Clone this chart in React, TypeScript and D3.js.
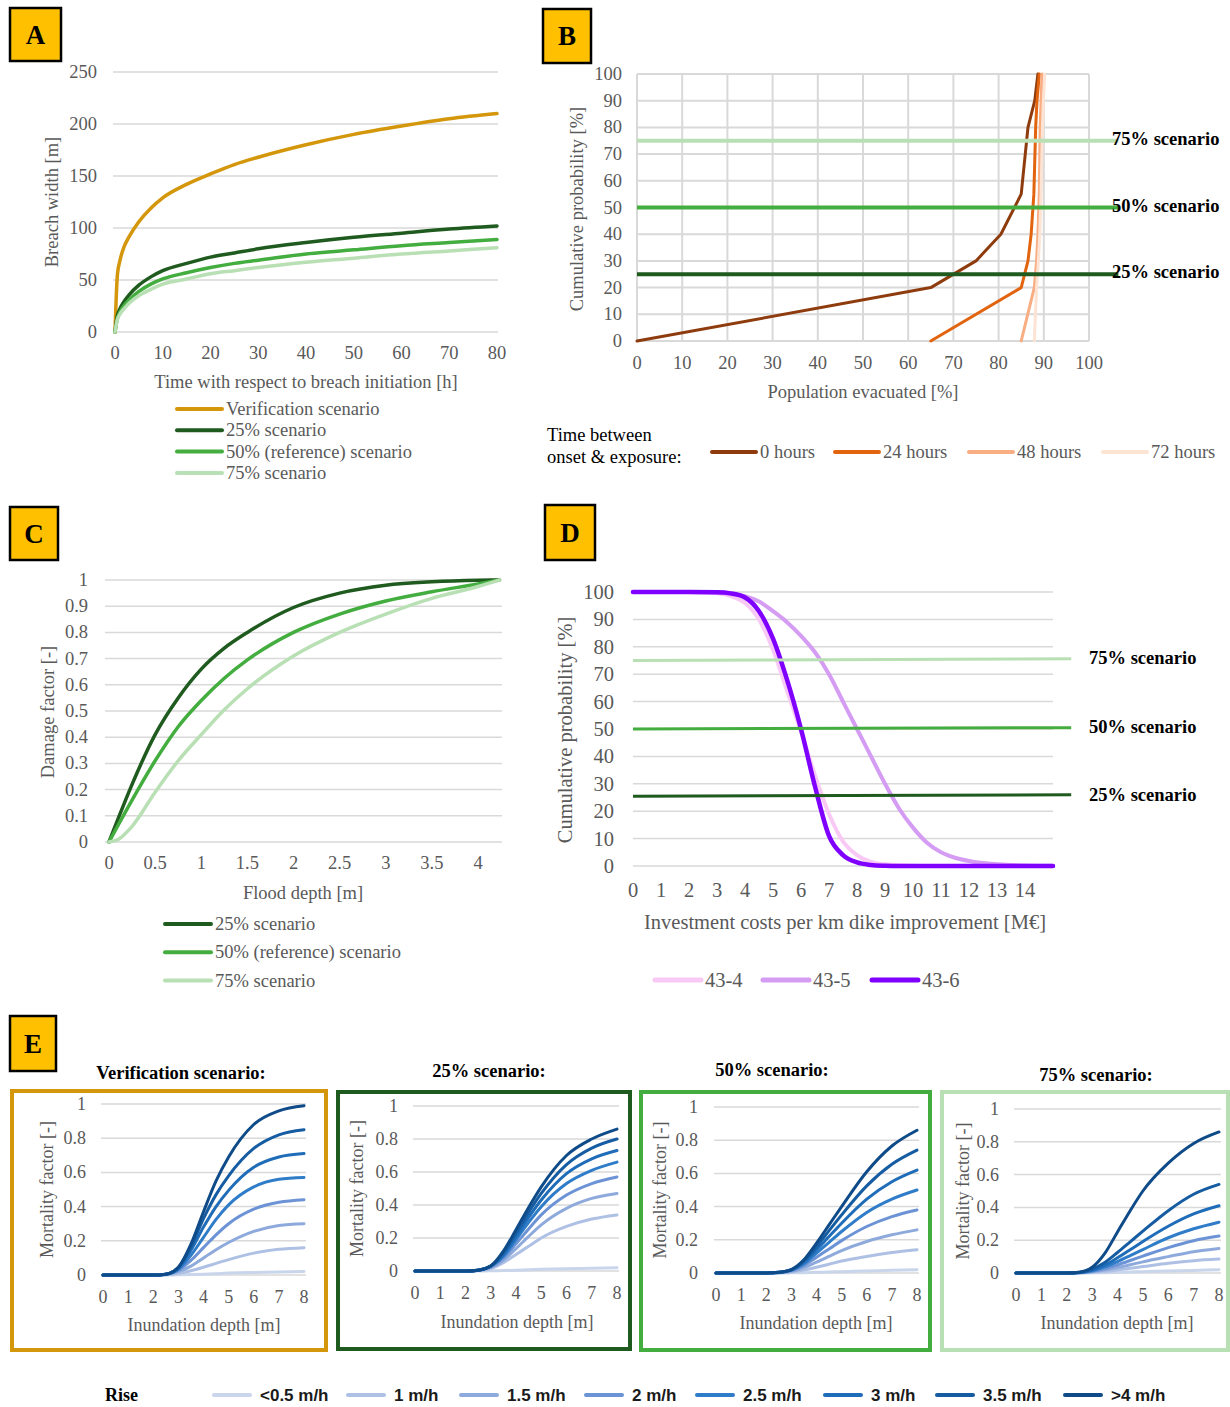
import React from 'react';
import * as d3 from 'd3';

const W = 1230;
const H = 1407;

const SERIF = '"Liberation Serif", "Times New Roman", serif';
const SANS = '"Liberation Sans", Arial, sans-serif';
const GRID = '#d9d9d9';
const INK = '#595959';
const TAG = '#ffc000';

const GOLD = '#d4960a';
const GREEN_25 = '#1f5a1e';
const GREEN_50 = '#44ad3f';
const GREEN_75 = '#b9e0b4';

// A - breach width growth
const breachTime = [0, 0.5, 1, 2, 3, 5, 7.5, 10, 15, 20, 25, 30, 40, 50, 60, 70, 80];
const breachVerification = [0, 55, 68, 83, 92, 106, 119, 129, 142, 152, 161, 168, 180, 190, 198, 205, 210];
const breach25 = [0, 16, 22, 30, 36, 45, 53, 59, 66, 72, 76, 80, 86, 91, 95, 99, 102];
const breach50 = [0, 13, 19, 26, 31, 39, 46, 51, 57, 62, 66, 69, 75, 79, 83, 86, 89];
const breach75 = [0, 12, 17, 23, 28, 35, 41, 46, 51, 56, 59, 62, 67, 71, 75, 78, 81];
const breachTicksY = [0, 50, 100, 150, 200, 250];
const breachTicksX = [0, 10, 20, 30, 40, 50, 60, 70, 80];
const breachNames = ['Verification scenario', '25% scenario', '50% (reference) scenario', '75% scenario'];

// B - evacuation
const evacProb = [0, 20, 30, 40, 55, 80, 90, 100];
const evac0h = [0, 65, 75, 80.5, 85, 86.5, 88, 88.7];
const evac24h = [65, 85, 86.5, 87.2, 87.8, 88.2, 88.5, 89];
const evac48h = [85, 87.9, 88.4, 88.7, 89, 89.2, 89.4, 89.6];
const evac72h = [87.9, 88.4, 88.8, 89.1, 89.4, 89.7, 89.9, 90.2];
const evacNames = ['0 hours', '24 hours', '48 hours', '72 hours'];
const evacColors = ['#8e3b0e', '#e2640f', '#f9ad82', '#fde3d3'];
const pctTicks = [0, 10, 20, 30, 40, 50, 60, 70, 80, 90, 100];
const scenarioLevelsB = [75, 50, 25];
const scenarioEndB = 106.5;
const scenarioNames = ['75% scenario', '50% scenario', '25% scenario'];
const scenarioColors = [GREEN_75, GREEN_50, GREEN_25];

// C - damage curves
const floodDepth = [0, 0.1, 0.25, 0.5, 0.75, 1, 1.25, 1.5, 2, 2.5, 3, 3.5, 4, 4.23];
const damage25 = [0, 0.09, 0.22, 0.41, 0.55, 0.66, 0.74, 0.8, 0.895, 0.95, 0.98, 0.993, 0.999, 1];
const damage50 = [0, 0.065, 0.16, 0.31, 0.44, 0.54, 0.625, 0.695, 0.8, 0.87, 0.92, 0.955, 0.985, 1];
const damage75 = [0, 0.01, 0.06, 0.19, 0.31, 0.41, 0.505, 0.585, 0.71, 0.8, 0.87, 0.93, 0.975, 1];
const damageTicksY = [0, 0.1, 0.2, 0.3, 0.4, 0.5, 0.6, 0.7, 0.8, 0.9, 1];
const damageTicksX = [0, 0.5, 1, 1.5, 2, 2.5, 3, 3.5, 4];

// D - investment costs
const costX = [0, 2, 3, 3.5, 4, 4.5, 5, 5.5, 6, 6.5, 7, 7.5, 8, 8.5, 9, 9.5, 10, 10.5, 11, 11.5, 12, 13, 14, 15];
const cost43_4 = [100, 100, 99.5, 98.5, 96, 90, 79, 64, 49, 33, 19, 9, 4, 1.5, 0.6, 0.3, 0.1, 0, 0, 0, 0, 0, 0, 0];
const cost43_5 = [100, 100, 99.8, 99.3, 98.5, 96.5, 93, 89, 84, 78, 70, 60, 50, 40, 30, 21, 14, 8.5, 5, 3, 1.8, 0.6, 0.2, 0.1];
const cost43_6 = [100, 100, 99.9, 99.5, 98, 93, 83, 68, 50, 29, 11, 4, 1.3, 0.4, 0.1, 0, 0, 0, 0, 0, 0, 0, 0, 0];
const costNames = ['43-4', '43-5', '43-6'];
const costColors = ['#f9c9f5', '#d59cf3', '#7f00ff'];
const costTicksX = [0, 1, 2, 3, 4, 5, 6, 7, 8, 9, 10, 11, 12, 13, 14];
const scenarioLevelsD = [75, 50, 25.5];
const scenarioLevelsDEnd = [75.6, 50.5, 26];
const scenarioEndD = 15.65;

// E - mortality (series ordered <0.5 ... >4 m/h)
const depthE = [0, 2, 2.5, 3, 3.5, 4, 4.5, 5, 6, 7, 8];
const mortVerification = [
  [0, 0, 0, 0.001, 0.003, 0.005, 0.008, 0.011, 0.015, 0.018, 0.02],
  [0, 0, 0.002, 0.01, 0.025, 0.045, 0.068, 0.09, 0.128, 0.15, 0.16],
  [0, 0, 0.003, 0.02, 0.052, 0.1, 0.148, 0.19, 0.255, 0.29, 0.3],
  [0, 0, 0.004, 0.028, 0.085, 0.16, 0.235, 0.3, 0.385, 0.425, 0.44],
  [0, 0, 0.005, 0.034, 0.115, 0.22, 0.325, 0.41, 0.515, 0.56, 0.57],
  [0, 0, 0.005, 0.04, 0.145, 0.28, 0.4, 0.495, 0.63, 0.69, 0.71],
  [0, 0, 0.005, 0.044, 0.165, 0.33, 0.47, 0.58, 0.74, 0.82, 0.85],
  [0, 0, 0.005, 0.045, 0.18, 0.37, 0.55, 0.69, 0.88, 0.96, 0.99],
];
const mort25 = [
  [0, 0, 0, 0.001, 0.003, 0.005, 0.008, 0.01, 0.014, 0.017, 0.02],
  [0, 0, 0.003, 0.015, 0.05, 0.1, 0.15, 0.2, 0.27, 0.315, 0.34],
  [0, 0, 0.004, 0.02, 0.065, 0.135, 0.21, 0.28, 0.38, 0.44, 0.47],
  [0, 0, 0.005, 0.025, 0.08, 0.165, 0.255, 0.34, 0.46, 0.53, 0.57],
  [0, 0, 0.005, 0.03, 0.09, 0.19, 0.295, 0.39, 0.53, 0.61, 0.66],
  [0, 0, 0.005, 0.03, 0.1, 0.21, 0.325, 0.43, 0.59, 0.68, 0.73],
  [0, 0, 0.005, 0.03, 0.11, 0.23, 0.355, 0.47, 0.645, 0.745, 0.8],
  [0, 0, 0.005, 0.03, 0.12, 0.25, 0.385, 0.51, 0.7, 0.8, 0.86],
];
const mort50 = [
  [0, 0, 0, 0.001, 0.002, 0.004, 0.006, 0.008, 0.012, 0.016, 0.02],
  [0, 0, 0.001, 0.006, 0.018, 0.035, 0.053, 0.072, 0.1, 0.123, 0.14],
  [0, 0, 0.002, 0.01, 0.032, 0.065, 0.1, 0.135, 0.19, 0.23, 0.26],
  [0, 0, 0.003, 0.014, 0.045, 0.095, 0.145, 0.195, 0.28, 0.34, 0.38],
  [0, 0, 0.003, 0.017, 0.056, 0.12, 0.185, 0.25, 0.365, 0.445, 0.5],
  [0, 0, 0.004, 0.019, 0.066, 0.14, 0.22, 0.3, 0.445, 0.55, 0.62],
  [0, 0, 0.004, 0.02, 0.074, 0.16, 0.255, 0.35, 0.525, 0.655, 0.74],
  [0, 0, 0.004, 0.021, 0.08, 0.18, 0.29, 0.4, 0.61, 0.765, 0.86],
];
const mort75 = [
  [0, 0, 0, 0.001, 0.002, 0.004, 0.006, 0.008, 0.012, 0.016, 0.02],
  [0, 0, 0.001, 0.004, 0.01, 0.019, 0.029, 0.039, 0.059, 0.075, 0.085],
  [0, 0, 0.001, 0.007, 0.018, 0.033, 0.05, 0.068, 0.1, 0.13, 0.15],
  [0, 0, 0.002, 0.01, 0.027, 0.05, 0.076, 0.103, 0.155, 0.197, 0.225],
  [0, 0, 0.003, 0.014, 0.037, 0.07, 0.106, 0.143, 0.215, 0.27, 0.31],
  [0, 0, 0.003, 0.018, 0.048, 0.093, 0.142, 0.192, 0.285, 0.36, 0.41],
  [0, 0, 0.004, 0.024, 0.064, 0.125, 0.19, 0.255, 0.38, 0.48, 0.54],
  [0, 0, 0.005, 0.035, 0.12, 0.25, 0.38, 0.5, 0.67, 0.79, 0.86],
];
const riseNames = ['<0.5 m/h', '1 m/h', '1.5 m/h', '2 m/h', '2.5 m/h', '3 m/h', '3.5 m/h', '>4 m/h'];
const riseColors = ['#c9d5eb', '#aec1e4', '#8eaadc', '#6c93d5', '#2f7cc8', '#1f6cb8', '#155ca2', '#0e4b88'];
const riseLegendX = [214, 348, 461, 586, 697, 825, 937, 1065];
const mortTicksY = [0, 0.2, 0.4, 0.6, 0.8, 1];
const mortTicksX = [0, 1, 2, 3, 4, 5, 6, 7, 8];

type Scale = d3.ScaleLinear<number, number>;

function Curve({ xs, ys, x, y, color, width, curve = d3.curveMonotoneX }:
  { xs: number[]; ys: number[]; x: Scale; y: Scale; color: string; width: number; curve?: d3.CurveFactory }) {
  const gen = d3.line<number>().x((_, i) => x(xs[i])).y(d => y(d)).curve(curve);
  return <path d={gen(ys) || ''} fill="none" stroke={color} strokeWidth={width}
    strokeLinecap="round" strokeLinejoin="round" />;
}

function Tag({ x, y, w, h, letter }: { x: number; y: number; w: number; h: number; letter: string }) {
  return (
    <g>
      <rect x={x} y={y} width={w} height={h} fill={TAG} stroke="#000" strokeWidth={2.5} />
      <text x={x + w / 2} y={y + h / 2} textAnchor="middle" dominantBaseline="central"
        fontFamily={SERIF} fontWeight="bold" fontSize={27}>{letter}</text>
    </g>
  );
}

function Frame(p: {
  x: Scale; y: Scale; xTicks: number[]; yTicks: number[];
  left: number; right: number; yLabelX: number; xLabelY: number;
  xTitle: string; xTitleAt: [number, number]; yTitle: string; yTitleAt: [number, number];
  size: number; vGrid?: boolean; gridWidth?: number;
}) {
  const gw = p.gridWidth ?? 1.5;
  const [ylo, yhi] = p.y.range();
  return (
    <g fontFamily={SERIF} fill={INK}>
      {p.yTicks.map(t => (
        <line key={'h' + t} x1={p.left} x2={p.right} y1={p.y(t)} y2={p.y(t)} stroke={GRID} strokeWidth={gw} />
      ))}
      {p.vGrid && p.xTicks.map(t => (
        <line key={'v' + t} x1={p.x(t)} x2={p.x(t)} y1={ylo} y2={yhi} stroke={GRID} strokeWidth={gw} />
      ))}
      {p.yTicks.map(t => (
        <text key={'yl' + t} x={p.yLabelX} y={p.y(t)} textAnchor="end" dominantBaseline="central" fontSize={p.size}>{t}</text>
      ))}
      {p.xTicks.map(t => (
        <text key={'xl' + t} x={p.x(t)} y={p.xLabelY} textAnchor="middle" dominantBaseline="central" fontSize={p.size}>{t}</text>
      ))}
      <text x={p.xTitleAt[0]} y={p.xTitleAt[1]} textAnchor="middle" dominantBaseline="central" fontSize={p.size}>{p.xTitle}</text>
      <text transform={`translate(${p.yTitleAt[0]},${p.yTitleAt[1]}) rotate(-90)`} textAnchor="middle"
        dominantBaseline="central" fontSize={p.size}>{p.yTitle}</text>
    </g>
  );
}

function LegendItem({ x1, x2, y, color, width, label, size = 18.5, font = SERIF, fill = INK, weight = 'normal', gap = 4 }:
  { x1: number; x2: number; y: number; color: string; width: number; label: string; size?: number; font?: string; fill?: string; weight?: string; gap?: number }) {
  return (
    <g>
      <line x1={x1} x2={x2} y1={y} y2={y} stroke={color} strokeWidth={width} strokeLinecap="round" />
      <text x={x2 + gap} y={y} dominantBaseline="central" fontFamily={font} fontSize={size} fill={fill} fontWeight={weight}>{label}</text>
    </g>
  );
}

function PanelA() {
  const x = d3.scaleLinear().domain([0, 80]).range([115, 497]);
  const y = d3.scaleLinear().domain([0, 250]).range([332, 72]);
  const series = [breachVerification, breach25, breach50, breach75];
  const colors = [GOLD, GREEN_25, GREEN_50, GREEN_75];
  return (
    <g>
      <Tag x={10} y={8} w={51} h={53} letter="A" />
      <Frame x={x} y={y} xTicks={breachTicksX} yTicks={breachTicksY} left={113} right={498}
        yLabelX={97} xLabelY={353} size={18.5}
        xTitle="Time with respect to breach initiation [h]" xTitleAt={[306, 382]}
        yTitle="Breach width [m]" yTitleAt={[52, 202]} />
      {series.map((s, i) => <Curve key={i} xs={breachTime} ys={s} x={x} y={y} color={colors[i]} width={3.5} />)}
      {breachNames.map((n, i) => (
        <LegendItem key={n} x1={177} x2={222} y={409 + i * 21.3} color={colors[i]} width={4} label={n} />
      ))}
    </g>
  );
}

function PanelB() {
  const x = d3.scaleLinear().domain([0, 100]).range([637, 1089]);
  const y = d3.scaleLinear().domain([0, 100]).range([341, 74]);
  const series = [evac0h, evac24h, evac48h, evac72h];
  const legendX = [712, 835, 969, 1103];
  return (
    <g>
      <Tag x={543} y={9} w={48} h={54} letter="B" />
      <Frame x={x} y={y} xTicks={pctTicks} yTicks={pctTicks} left={637} right={1089}
        yLabelX={622} xLabelY={363} size={18.5} vGrid gridWidth={2}
        xTitle="Population evacuated [%]" xTitleAt={[863, 392]}
        yTitle="Cumulative probability [%]" yTitleAt={[577, 209]} />
      {series.map((s, i) => (
        <Curve key={i} xs={s} ys={evacProb} x={x} y={y} color={evacColors[i]} width={3} curve={d3.curveLinear} />
      ))}
      {scenarioLevelsB.map((lv, i) => (
        <line key={lv} x1={x(0)} x2={x(scenarioEndB)} y1={y(lv)} y2={y(lv)} stroke={scenarioColors[i]} strokeWidth={4} />
      ))}
      {scenarioNames.map((n, i) => (
        <text key={n} x={1112} y={y(scenarioLevelsB[i]) - 2} dominantBaseline="central" fontFamily={SERIF}
          fontWeight="bold" fontSize={18.5} fill="#000">{n}</text>
      ))}
      <text x={547} y={435} dominantBaseline="central" fontFamily={SERIF} fontSize={18.5} fill="#000">Time between</text>
      <text x={547} y={457} dominantBaseline="central" fontFamily={SERIF} fontSize={18.5} fill="#000">onset &amp; exposure:</text>
      {evacNames.map((n, i) => (
        <LegendItem key={n} x1={legendX[i]} x2={legendX[i] + 44} y={452} color={evacColors[i]} width={4} label={n} />
      ))}
    </g>
  );
}

function PanelC() {
  const x = d3.scaleLinear().domain([0, 4]).range([109, 478]);
  const y = d3.scaleLinear().domain([0, 1]).range([842, 580]);
  const series = [damage25, damage50, damage75];
  const colors = [GREEN_25, GREEN_50, GREEN_75];
  const names = ['25% scenario', '50% (reference) scenario', '75% scenario'];
  return (
    <g>
      <Tag x={10} y={507} w={48} h={53} letter="C" />
      <Frame x={x} y={y} xTicks={damageTicksX} yTicks={damageTicksY} left={105} right={502}
        yLabelX={88} xLabelY={863} size={18.5}
        xTitle="Flood depth [m]" xTitleAt={[303, 893]}
        yTitle="Damage factor [-]" yTitleAt={[48, 712]} />
      {series.map((s, i) => <Curve key={i} xs={floodDepth} ys={s} x={x} y={y} color={colors[i]} width={3.5} />)}
      {names.map((n, i) => (
        <LegendItem key={n} x1={165} x2={211} y={924 + i * 28.3} color={colors[i]} width={4} label={n} />
      ))}
    </g>
  );
}

function PanelD() {
  const x = d3.scaleLinear().domain([0, 15]).range([633, 1053]);
  const y = d3.scaleLinear().domain([0, 100]).range([866, 592]);
  const series = [cost43_4, cost43_5, cost43_6];
  const widths = [4, 4, 4.5];
  const legendX = [655, 763, 872];
  return (
    <g>
      <Tag x={545} y={505} w={50} h={55} letter="D" />
      <Frame x={x} y={y} xTicks={costTicksX} yTicks={pctTicks} left={633} right={1053}
        yLabelX={614} xLabelY={890} size={20.5}
        xTitle="Investment costs per km dike improvement [M€]" xTitleAt={[845, 922]}
        yTitle="Cumulative probability [%]" yTitleAt={[565, 730]} />
      {series.map((s, i) => <Curve key={i} xs={costX} ys={s} x={x} y={y} color={costColors[i]} width={widths[i]} />)}
      {scenarioLevelsD.map((lv, i) => (
        <line key={lv} x1={x(0)} x2={x(scenarioEndD)} y1={y(lv)} y2={y(scenarioLevelsDEnd[i])}
          stroke={scenarioColors[i]} strokeWidth={3} />
      ))}
      {scenarioNames.map((n, i) => (
        <text key={n} x={1089} y={y(scenarioLevelsDEnd[i]) + (i === 2 ? 0 : -1)} dominantBaseline="central" fontFamily={SERIF}
          fontWeight="bold" fontSize={18.5} fill="#000">{n}</text>
      ))}
      {costNames.map((n, i) => (
        <LegendItem key={n} x1={legendX[i]} x2={legendX[i] + 46} y={980} color={costColors[i]} width={5}
          label={n} size={20.5} />
      ))}
    </g>
  );
}

type SubCfg = {
  title: string; titleAt: [number, number]; border: string;
  box: [number, number, number, number];
  xr: [number, number]; yr: [number, number];
  yLabelX: number; xLabelY: number; xTitleAt: [number, number]; yTitleX: number;
  data: number[][];
};

const subplots: SubCfg[] = [
  { title: 'Verification scenario:', titleAt: [181, 1073], border: GOLD, box: [12, 1091, 314, 259],
    xr: [103, 304], yr: [1275, 1104], yLabelX: 86, xLabelY: 1297, xTitleAt: [204, 1325], yTitleX: 47, data: mortVerification },
  { title: '25% scenario:', titleAt: [489, 1071], border: GREEN_25, box: [338, 1092, 292, 257],
    xr: [415, 617], yr: [1271, 1106], yLabelX: 398, xLabelY: 1293, xTitleAt: [517, 1322], yTitleX: 357, data: mort25 },
  { title: '50% scenario:', titleAt: [772, 1070], border: GREEN_50, box: [641, 1092, 289, 258],
    xr: [716, 917], yr: [1273, 1107], yLabelX: 698, xLabelY: 1295, xTitleAt: [816, 1323], yTitleX: 660, data: mort50 },
  { title: '75% scenario:', titleAt: [1096, 1075], border: GREEN_75, box: [942, 1092, 286, 258],
    xr: [1016, 1219], yr: [1273, 1109], yLabelX: 999, xLabelY: 1295, xTitleAt: [1117, 1323], yTitleX: 963, data: mort75 },
];

function SubPlot({ c }: { c: SubCfg }) {
  const x = d3.scaleLinear().domain([0, 8]).range(c.xr);
  const y = d3.scaleLinear().domain([0, 1]).range(c.yr);
  const [bx, by, bw, bh] = c.box;
  return (
    <g>
      <text x={c.titleAt[0]} y={c.titleAt[1]} textAnchor="middle" dominantBaseline="central"
        fontFamily={SERIF} fontWeight="bold" fontSize={18.5} fill="#000">{c.title}</text>
      <rect x={bx} y={by} width={bw} height={bh} fill="#fff" stroke={c.border} strokeWidth={4} />
      <Frame x={x} y={y} xTicks={mortTicksX} yTicks={mortTicksY} left={c.xr[0] - 2} right={c.xr[1] + 2}
        yLabelX={c.yLabelX} xLabelY={c.xLabelY} size={18}
        xTitle="Inundation depth [m]" xTitleAt={c.xTitleAt}
        yTitle="Mortality factor [-]" yTitleAt={[c.yTitleX, (c.yr[0] + c.yr[1]) / 2]} />
      {c.data.map((s, i) => <Curve key={i} xs={depthE} ys={s} x={x} y={y} color={riseColors[i]} width={3} />)}
    </g>
  );
}

function PanelE() {
  return (
    <g>
      <Tag x={10} y={1016} w={46} h={55} letter="E" />
      {subplots.map(c => <SubPlot key={c.title} c={c} />)}
      <text x={105} y={1395} dominantBaseline="central" fontFamily={SERIF} fontWeight="bold" fontSize={18} fill="#000">Rise</text>
      {riseNames.map((n, i) => (
        <LegendItem key={n} x1={riseLegendX[i]} x2={riseLegendX[i] + 36} y={1395} color={riseColors[i]} width={4}
          label={n} size={17} font={SANS} fill="#1a1a1a" weight="bold" gap={10} />
      ))}
    </g>
  );
}

export default function App() {
  return (
    <svg width={W} height={H} viewBox={`0 0 ${W} ${H}`}
      style={{ position: 'absolute', left: 0, top: 0, display: 'block', background: '#fff' }}>
      <rect width={W} height={H} fill="#fff" />
      <PanelA />
      <PanelB />
      <PanelC />
      <PanelD />
      <PanelE />
    </svg>
  );
}
